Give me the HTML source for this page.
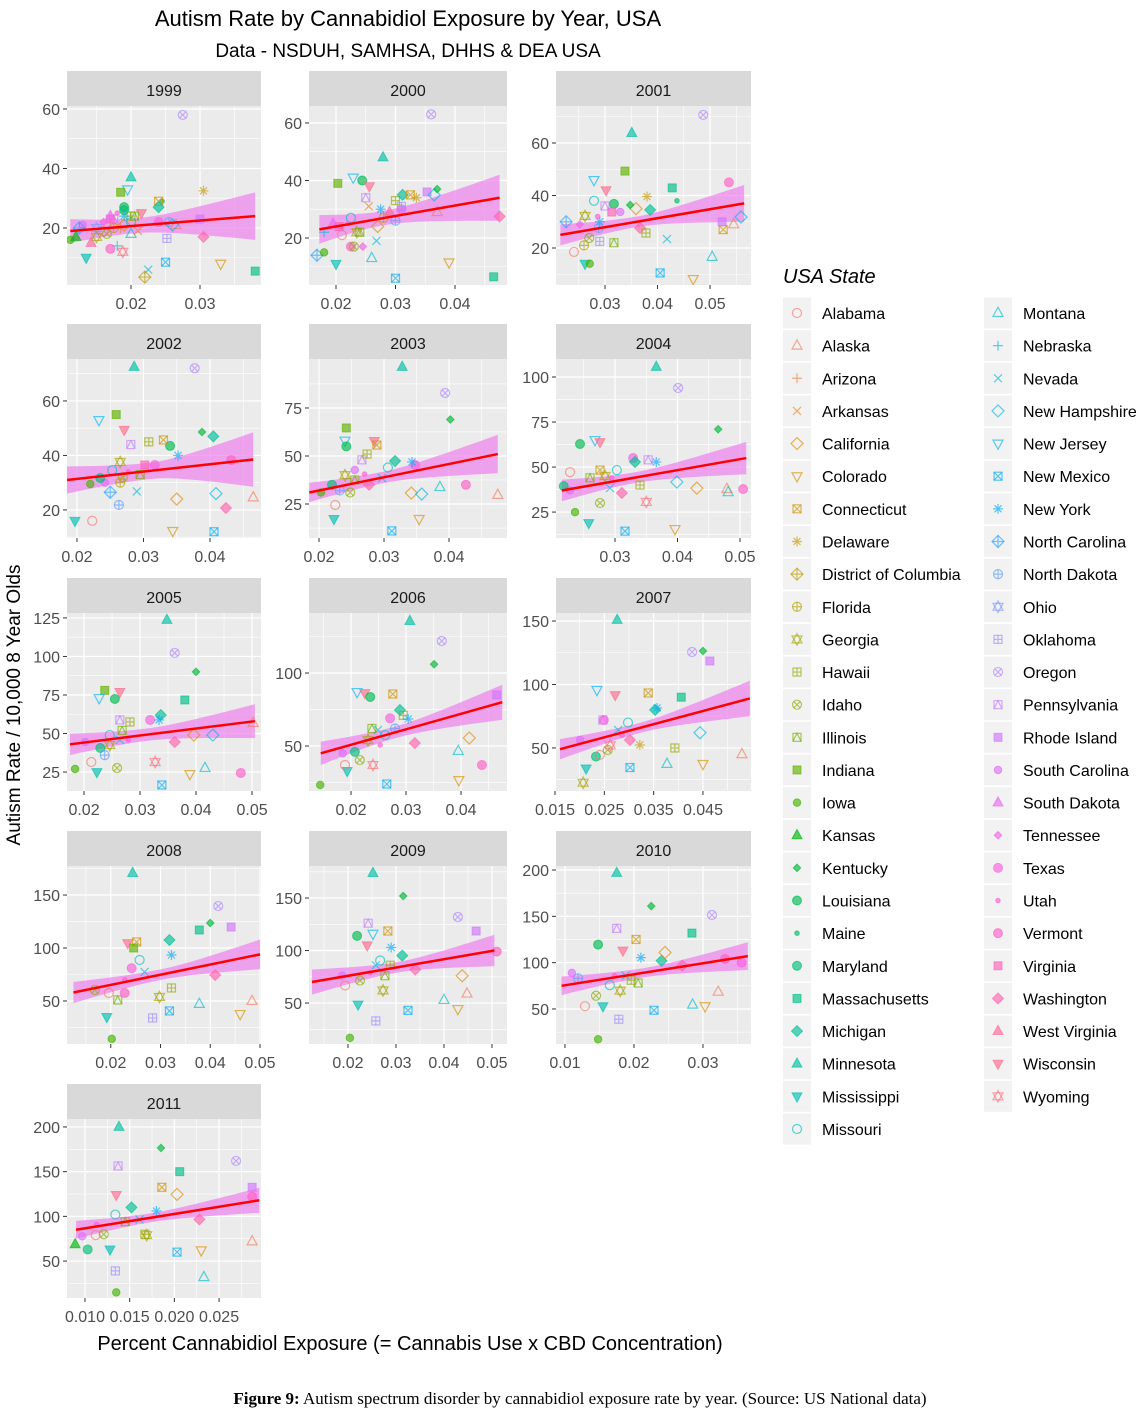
<!DOCTYPE html>
<html><head><meta charset="utf-8"><style>
body{margin:0;background:#fff;}
svg{display:block;font-family:"Liberation Sans",sans-serif;}
</style></head><body>
<svg id="chart" width="1147" height="1416" viewBox="0 0 1147 1416" xmlns="http://www.w3.org/2000/svg">
<text x="408" y="26" font-size="22" text-anchor="middle" fill="#000">Autism Rate by Cannabidiol Exposure by Year, USA</text>
<text x="408" y="57" font-size="19" text-anchor="middle" fill="#000">Data - NSDUH, SAMHSA, DHHS &amp; DEA USA</text>
<text transform="translate(20,705) rotate(-90)" font-size="19" text-anchor="middle" fill="#000">Autism Rate / 10,000 8 Year Olds</text>
<text x="410" y="1350" font-size="20" text-anchor="middle" fill="#000">Percent Cannabidiol Exposure (= Cannabis Use x CBD Concentration)</text>
<text x="580" y="1404" font-size="17" text-anchor="middle" fill="#000" font-family="Liberation Serif, serif"><tspan font-weight="bold">Figure 9:</tspan> Autism spectrum disorder by cannabidiol exposure rate by year. (Source: US National data)</text>
<text x="783" y="283" font-size="20" font-style="italic" fill="#000">USA State</text>
<g id="panels"></g>
<g id="legend"></g>
</svg>
<script>
const states=["Alabama","Alaska","Arizona","Arkansas","California","Colorado","Connecticut","Delaware","District of Columbia","Florida","Georgia","Hawaii","Idaho","Illinois","Indiana","Iowa","Kansas","Kentucky","Louisiana","Maine","Maryland","Massachusetts","Michigan","Minnesota","Mississippi","Missouri","Montana","Nebraska","Nevada","New Hampshire","New Jersey","New Mexico","New York","North Carolina","North Dakota","Ohio","Oklahoma","Oregon","Pennsylvania","Rhode Island","South Carolina","South Dakota","Tennessee","Texas","Utah","Vermont","Virginia","Washington","West Virginia","Wisconsin","Wyoming"];
const years=["1999","2000","2001","2002","2003","2004","2005","2006","2007","2008","2009","2010","2011"];
const xDomains=[[0.01072,0.03884],[0.01546,0.04874],[0.02067,0.0578],[0.0185,0.04767],[0.01846,0.04892],[0.02056,0.05176],[0.01696,0.0516],[0.01236,0.04836],[0.0152,0.05474],[0.0112,0.0502],[0.01188,0.05313],[0.0087,0.03696],[0.00799,0.02969]];
const yDomains=[[0.84,61],[3.65,65.9],[5.9,74.1],[9.7,75.4],[7.3,100.5],[10.6,110],[12.7,128.2],[19.2,141.1],[16.1,156.3],[9.4,177.4],[11,180.5],[12.2,204.3],[8.7,208.9]];
const xTicks=[[0.02,0.03],[0.02,0.03,0.04],[0.03,0.04,0.05],[0.02,0.03,0.04],[0.02,0.03,0.04],[0.03,0.04,0.05],[0.02,0.03,0.04,0.05],[0.02,0.03,0.04],[0.015,0.025,0.035,0.045],[0.02,0.03,0.04,0.05],[0.02,0.03,0.04,0.05],[0.01,0.02,0.03],[0.010,0.015,0.020,0.025]];
const xTickLabels=[["0.02","0.03"],["0.02","0.03","0.04"],["0.03","0.04","0.05"],["0.02","0.03","0.04"],["0.02","0.03","0.04"],["0.03","0.04","0.05"],["0.02","0.03","0.04","0.05"],["0.02","0.03","0.04"],["0.015","0.025","0.035","0.045"],["0.02","0.03","0.04","0.05"],["0.02","0.03","0.04","0.05"],["0.01","0.02","0.03"],["0.010","0.015","0.020","0.025"]];
const yTicks=[[20,40,60],[20,40,60],[20,40,60],[20,40,60],[25,50,75],[25,50,75,100],[25,50,75,100,125],[50,100],[50,100,150],[50,100,150],[50,100,150],[50,100,150,200],[50,100,150,200]];
const fitLines=[[0.0112,19,0.038,24],[0.0172,23,0.0475,34],[0.0215,25,0.0565,37],[0.0185,31,0.0465,38.5],[0.0185,31,0.0475,51],[0.0215,37,0.051,55],[0.0175,43,0.0505,58],[0.0145,45,0.0475,80],[0.016,49,0.0545,89],[0.0125,58,0.05,94],[0.0125,70,0.0505,100],[0.0095,75,0.0365,107],[0.009,85,0.0295,118]];
const bandWidths=[[4,2.5,8],[5,2.5,8],[4,2,7],[5,3,10],[5,3,10],[6,3,9],[7,4,11],[8,4,12],[8,4,14],[10,5,14],[12,5,15],[10,5,15],[10,5,14]];
const pts1999=[[0.0275,58,37],[0.020,37,23],[0.0195,33,30],[0.0185,32,14],[0.0305,32.5,7],[0.019,27,18],[0.0245,29,19],[0.024,29,6],[0.024,27,22],[0.0215,25,49],[0.020,24,11],[0.019,24,32],[0.0175,23,38],[0.024,22,43],[0.0255,22,34],[0.0265,21,1],[0.013,21,40],[0.020,18,26],[0.0165,18,12],[0.0112,16,15],[0.015,17,10],[0.0142,15,48],[0.0252,16.5,36],[0.0305,17,47],[0.018,14,27],[0.017,13,45],[0.0188,12,50],[0.0135,10,24],[0.025,8.5,31],[0.0225,6,28],[0.022,3.5,8],[0.033,8,5],[0.038,5.5,21],[0.030,23,39],[0.018,25,44],[0.0175,20,9],[0.019,21,4],[0.016,19,0],[0.0185,20,2],[0.021,19,3],[0.012,17,16],[0.0125,20,33],[0.02,22,25],[0.026,21,29],[0.0205,24,13],[0.019,26,20],[0.017,23,46],[0.016,22,42],[0.015,20,35],[0.017,24,41]];
const pts2000=[[0.036,63,37],[0.0279,48,23],[0.0203,39,14],[0.0229,41,30],[0.0244,40,18],[0.0256,38,49],[0.025,34,38],[0.0255,31,3],[0.0275,30,32],[0.030,33,11],[0.0312,35,22],[0.0325,35,6],[0.0335,34,7],[0.0353,36,39],[0.0365,35,29],[0.037,37,17],[0.037,29,1],[0.030,26,34],[0.031,30,43],[0.0475,27.5,47],[0.0195,25,41],[0.018,22,27],[0.0235,22,10],[0.0225,27,25],[0.0225,17,45],[0.023,17,12],[0.0245,17,42],[0.0168,14,33],[0.018,15,15],[0.020,11,24],[0.0268,19,28],[0.026,13,26],[0.039,11.5,5],[0.030,6,31],[0.0465,6.5,21],[0.024,22,13],[0.021,21,0],[0.027,24,4],[0.028,27,9],[0.031,31,36],[0.0205,24,46],[0.022,25,44],[0.029,29,48]];
const pts2001=[[0.0487,70.7,37],[0.0351,63.8,23],[0.0338,49.3,14],[0.0279,45.9,30],[0.0302,42,49],[0.0428,42.9,21],[0.0536,45,45],[0.038,39.6,7],[0.0437,38,19],[0.0359,35,4],[0.0262,32.2,10],[0.029,30,32],[0.0418,23.4,28],[0.0504,16.6,26],[0.0525,27,6],[0.0559,31.8,29],[0.0523,30,39],[0.0545,29,1],[0.0262,14,24],[0.0271,14,15],[0.0241,18.5,0],[0.0405,10.5,31],[0.0468,8.2,5],[0.0226,30,33],[0.0367,27.6,47],[0.0386,34.5,22],[0.0348,36.4,17],[0.0317,36.8,18],[0.0288,27.6,34],[0.027,23.8,12],[0.0329,33.7,40],[0.0286,32,44],[0.0313,33.7,46],[0.03,36,38],[0.0378,25.7,11],[0.026,21,9],[0.029,22.5,36],[0.0317,22,13],[0.0252,29,42],[0.0279,38,25]];
const pts2002=[[0.0286,72.5,23],[0.0377,72,37],[0.0259,55,14],[0.0233,53,30],[0.0271,49.4,49],[0.0388,48.6,17],[0.0405,47,22],[0.034,43.5,18],[0.0308,45,11],[0.033,45.7,6],[0.0281,44,38],[0.0352,40,32],[0.0432,38.3,45],[0.0317,36.5,43],[0.0265,37.6,10],[0.0465,24.6,1],[0.0424,20.7,47],[0.035,24,4],[0.0409,26,29],[0.0344,12.3,5],[0.0406,12,31],[0.0197,16,24],[0.0223,16,0],[0.0263,21.8,34],[0.025,26.5,33],[0.029,26.8,28],[0.022,29.5,15],[0.0242,30,40],[0.0269,32,12],[0.0253,34.6,25],[0.0277,34,44],[0.0295,33,13],[0.0235,31.7,20],[0.0302,36.5,46],[0.0265,30,9]];
const pts2003=[[0.0328,96.4,23],[0.0394,82.8,37],[0.0402,69,17],[0.0242,64.6,14],[0.024,58,30],[0.0285,57.8,49],[0.0289,55.7,6],[0.0266,48,38],[0.0274,51,11],[0.0242,55,18],[0.0317,47.4,22],[0.0348,45.3,43],[0.0343,46.9,32],[0.0426,35,45],[0.0475,29.7,1],[0.0342,30.7,4],[0.0386,33.8,26],[0.0358,30.2,29],[0.0354,17.2,5],[0.0312,11,31],[0.0223,17.2,24],[0.0225,24.5,0],[0.0203,31,15],[0.0248,31,12],[0.0232,32,34],[0.0255,42.7,40],[0.0297,38.5,28],[0.0306,44,25],[0.027,40.6,44],[0.0255,37.5,13],[0.024,40,10],[0.0277,35,47],[0.022,35,20]];
const pts2004=[[0.0366,105.6,23],[0.0401,93.9,37],[0.0465,71,17],[0.0244,62.8,18],[0.0268,65,30],[0.0276,63.9,49],[0.0353,54,38],[0.0329,55,43],[0.0332,52.8,22],[0.0366,52.8,32],[0.0505,37.8,45],[0.0479,37.8,1],[0.0481,36,26],[0.0431,38.3,4],[0.0399,41.7,29],[0.0396,15.6,5],[0.0316,14.4,31],[0.035,30.6,50],[0.0258,18.9,24],[0.0236,25,15],[0.0228,37,40],[0.0276,30,12],[0.0292,38.3,28],[0.0284,45,10],[0.0303,48.3,25],[0.0295,44,44],[0.0311,35.6,47],[0.026,44,13],[0.0218,39.4,20],[0.0228,47.2,0],[0.0276,48.3,6],[0.034,40,11]];
const pts2005=[[0.0348,123.7,23],[0.0362,102.3,37],[0.04,90,17],[0.0237,78,14],[0.0227,73,30],[0.0264,77,49],[0.0255,72.4,18],[0.038,71.8,21],[0.0264,58.8,38],[0.0337,62,22],[0.0318,58.8,43],[0.0282,57.5,11],[0.0334,58.8,32],[0.048,24.4,45],[0.0502,56.8,1],[0.0362,44.5,47],[0.0396,49,4],[0.0416,27.6,26],[0.0389,23.7,5],[0.0339,16.6,31],[0.0327,31.5,50],[0.0223,25,24],[0.0184,27,15],[0.0213,31.5,0],[0.0259,27.6,12],[0.0246,42.5,10],[0.0264,45.8,28],[0.0268,52,13],[0.043,49,29],[0.0202,44.5,40],[0.0246,49,25],[0.0279,45.8,44],[0.0229,40.6,20],[0.0237,36,34]];
const pts2006=[[0.0307,135.6,23],[0.0365,121.9,37],[0.0351,106,17],[0.0465,85,39],[0.0211,87,30],[0.0225,86.3,49],[0.0235,83.6,18],[0.0276,85.6,6],[0.0289,74.7,22],[0.0271,69,43],[0.0295,71,11],[0.0304,68.5,32],[0.0316,52,47],[0.0415,55.5,4],[0.0438,37,45],[0.0395,46.6,26],[0.0396,26.7,5],[0.0265,24,31],[0.024,37,50],[0.0193,32.9,24],[0.0144,23.3,15],[0.0189,37,0],[0.0216,40.4,12],[0.0231,54,10],[0.0249,61,28],[0.0262,57.5,25],[0.0253,50.7,44],[0.0207,46,20],[0.0185,45,40],[0.028,62,34],[0.0238,62,13]];
const pts2007=[[0.0276,150.8,23],[0.0428,125.6,37],[0.0464,118.5,39],[0.045,126.4,17],[0.0235,95.7,30],[0.0272,91.7,49],[0.0339,93.3,6],[0.0406,90,21],[0.0247,72,38],[0.0353,80,22],[0.0249,72,43],[0.0393,50,11],[0.0357,81.5,32],[0.0322,52.4,7],[0.0377,37.4,26],[0.045,37.4,5],[0.0529,45,1],[0.0444,62,29],[0.0302,34.6,31],[0.0213,33.9,24],[0.0207,22.6,10],[0.0233,43.2,20],[0.0241,44.5,0],[0.0257,48.4,12],[0.0201,56.3,40],[0.0278,64.2,28],[0.0298,70,25],[0.0286,60,44],[0.0302,56.3,47],[0.0262,52,50]];
const pts2008=[[0.0244,170.8,23],[0.0416,139.6,37],[0.04,123.6,17],[0.0442,119.8,39],[0.0234,104.7,49],[0.0252,105.7,6],[0.0246,100,14],[0.0378,117,21],[0.0318,107.5,22],[0.0322,93.4,32],[0.0322,62.3,11],[0.0242,81,43],[0.041,74.5,47],[0.046,37.7,5],[0.0484,50,1],[0.0378,47.2,26],[0.0318,40.6,31],[0.0284,34,36],[0.0192,34.9,24],[0.0202,14.2,15],[0.0196,57.5,0],[0.0298,53.8,10],[0.0268,77.4,28],[0.0258,88.7,25],[0.0228,70,44],[0.0214,51,13],[0.0168,60.4,12],[0.0228,57.5,45]];
const pts2009=[[0.0252,173.8,23],[0.0315,151.9,17],[0.0429,131.9,37],[0.0467,118.6,39],[0.0242,126,38],[0.0252,116,30],[0.0283,118.6,6],[0.0219,114,18],[0.024,105,49],[0.029,102.9,32],[0.0313,95.2,22],[0.034,81.9,47],[0.051,99,45],[0.0438,76,4],[0.0448,59,1],[0.04,52.9,26],[0.0429,44.3,5],[0.0325,43,31],[0.0258,33,36],[0.0204,16.8,15],[0.0221,48.6,24],[0.0194,66.7,0],[0.0273,62,10],[0.0258,86,28],[0.0267,90.5,25],[0.0288,86,11],[0.0225,71.4,12],[0.0188,76,40],[0.0246,79,44],[0.0277,76,13]];
const pts2010=[[0.0175,196.8,23],[0.0225,161,17],[0.0313,151.4,37],[0.0175,137,38],[0.0203,125,6],[0.0284,131.9,21],[0.0148,119.5,18],[0.0184,113,49],[0.021,105.4,32],[0.024,102,22],[0.0356,100,43],[0.027,96.8,47],[0.0332,104,45],[0.0245,111,4],[0.0322,68.6,1],[0.0285,54.6,26],[0.0303,53,5],[0.0229,48.6,31],[0.0178,38.9,36],[0.0148,17.3,15],[0.0155,53,24],[0.0129,53,0],[0.018,69.7,10],[0.0188,86,28],[0.0165,75.7,25],[0.0196,81,11],[0.0145,64.3,12],[0.011,89,40],[0.0172,86,44],[0.0206,78,13],[0.0119,83,34]];
const pts2011=[[0.0138,200,23],[0.0185,176.5,17],[0.0269,162,37],[0.0137,156.4,38],[0.0206,150,21],[0.0186,132.5,6],[0.0203,124.6,4],[0.0287,132.5,39],[0.0135,124,49],[0.018,106,32],[0.0152,110,22],[0.0287,122,45],[0.0228,96.6,47],[0.0287,72,1],[0.023,62,5],[0.0233,32,26],[0.0203,60,31],[0.0134,39,36],[0.0135,15,15],[0.0128,63,24],[0.0112,79,0],[0.0103,63,20],[0.0089,68.7,16],[0.0169,79,10],[0.0161,96.6,28],[0.0134,102,25],[0.0121,80,12],[0.0113,91,44],[0.0145,94,13],[0.0167,80,11],[0.0097,77.7,40]];
const allPts=[pts1999,pts2000,pts2001,pts2002,pts2003,pts2004,pts2005,pts2006,pts2007,pts2008,pts2009,pts2010,pts2011];

const NS="http://www.w3.org/2000/svg";
const colX=[[67,261],[309,507],[556,751]];
const rowY=[[106,285],[359,538],[613,791],[866,1044],[1119,1298]];

function hcl(h,c,l){
  const hr=h*Math.PI/180,U=c*Math.cos(hr),V=c*Math.sin(hr);
  const Xn=95.047,Yn=100,Zn=108.883;
  const Y=l>8?Yn*Math.pow((l+16)/116,3):Yn*l/903.3;
  const d=Xn+15*Yn+3*Zn,un=4*Xn/d,vn=9*Yn/d;
  const up=U/(13*l)+un,vp=V/(13*l)+vn;
  const X=9*Y*up/(4*vp),Z=-X/3-5*Y+3*Y/vp;
  const x=X/100,y=Y/100,z=Z/100;
  let r=3.2406*x-1.5372*y-0.4986*z,g=-0.9689*x+1.8758*y+0.0415*z,b=0.0557*x-0.2040*y+1.0570*z;
  const gm=v=>{v=v<=0.0031308?12.92*v:1.055*Math.pow(v,1/2.4)-0.055;return Math.round(Math.max(0,Math.min(1,v))*255);};
  return "rgb("+gm(r)+","+gm(g)+","+gm(b)+")";
}
const colors=states.map((s,i)=>hcl(15+i*360/51,100,65));
function shapeCode(i){if(i<25)return i+1;if(i<50)return i-24;return 11;}

function el(tag,attrs,parent){const e=document.createElementNS(NS,tag);for(const k in attrs)e.setAttribute(k,attrs[k]);if(parent)parent.appendChild(e);return e;}

function drawShape(g,code,cx,cy,col,op){
  const r=5;const st={stroke:col,"stroke-width":1.2,fill:"none","stroke-opacity":op,"fill-opacity":op};
  const fl={fill:col,stroke:col,"stroke-width":1,"fill-opacity":op,"stroke-opacity":op};
  const tri=(s,up)=>{const h=s*1.15;return up?`${cx},${cy-h} ${cx-s},${cy+h*0.6} ${cx+s},${cy+h*0.6}`:`${cx},${cy+h} ${cx-s},${cy-h*0.6} ${cx+s},${cy-h*0.6}`;};
  const dia=s=>`${cx},${cy-s} ${cx+s},${cy} ${cx},${cy+s} ${cx-s},${cy}`;
  const grp=el("g",{},g);
  
  
  const A=(t,a)=>el(t,a,grp);
  switch(code){
    case 1:A("circle",Object.assign({cx,cy,r:r*0.9},st));break;
    case 2:A("polygon",Object.assign({points:tri(r,true)},st));break;
    case 3:A("path",Object.assign({d:`M${cx-r},${cy}H${cx+r}M${cx},${cy-r}V${cy+r}`},st));break;
    case 4:A("path",Object.assign({d:`M${cx-r*0.8},${cy-r*0.8}L${cx+r*0.8},${cy+r*0.8}M${cx-r*0.8},${cy+r*0.8}L${cx+r*0.8},${cy-r*0.8}`},st));break;
    case 5:A("polygon",Object.assign({points:dia(r*1.2)},st));break;
    case 6:A("polygon",Object.assign({points:tri(r,false)},st));break;
    case 7:A("rect",Object.assign({x:cx-r*0.8,y:cy-r*0.8,width:r*1.6,height:r*1.6},st));A("path",Object.assign({d:`M${cx-r*0.8},${cy-r*0.8}L${cx+r*0.8},${cy+r*0.8}M${cx-r*0.8},${cy+r*0.8}L${cx+r*0.8},${cy-r*0.8}`},st));break;
    case 8:A("path",Object.assign({d:`M${cx-r},${cy}H${cx+r}M${cx},${cy-r}V${cy+r}M${cx-r*0.7},${cy-r*0.7}L${cx+r*0.7},${cy+r*0.7}M${cx-r*0.7},${cy+r*0.7}L${cx+r*0.7},${cy-r*0.7}`},st));break;
    case 9:A("polygon",Object.assign({points:dia(r*1.2)},st));A("path",Object.assign({d:`M${cx-r*1.2},${cy}H${cx+r*1.2}M${cx},${cy-r*1.2}V${cy+r*1.2}`},st));break;
    case 10:A("circle",Object.assign({cx,cy,r:r*0.9},st));A("path",Object.assign({d:`M${cx-r*0.9},${cy}H${cx+r*0.9}M${cx},${cy-r*0.9}V${cy+r*0.9}`},st));break;
    case 11:A("polygon",Object.assign({points:tri(r,true)},st));A("polygon",Object.assign({points:tri(r,false)},st));break;
    case 12:A("rect",Object.assign({x:cx-r*0.8,y:cy-r*0.8,width:r*1.6,height:r*1.6},st));A("path",Object.assign({d:`M${cx-r*0.8},${cy}H${cx+r*0.8}M${cx},${cy-r*0.8}V${cy+r*0.8}`},st));break;
    case 13:A("circle",Object.assign({cx,cy,r:r*0.9},st));A("path",Object.assign({d:`M${cx-r*0.63},${cy-r*0.63}L${cx+r*0.63},${cy+r*0.63}M${cx-r*0.63},${cy+r*0.63}L${cx+r*0.63},${cy-r*0.63}`},st));break;
    case 14:A("rect",Object.assign({x:cx-r*0.8,y:cy-r*0.8,width:r*1.6,height:r*1.6},st));A("polyline",Object.assign({points:`${cx-r*0.8},${cy+r*0.8} ${cx},${cy-r*0.8} ${cx+r*0.8},${cy+r*0.8}`},st));break;
    case 15:A("rect",Object.assign({x:cx-r*0.8,y:cy-r*0.8,width:r*1.6,height:r*1.6},fl));break;
    case 16:A("circle",Object.assign({cx,cy,r:r*0.75},fl));break;
    case 17:A("polygon",Object.assign({points:tri(r,true)},fl));break;
    case 18:A("polygon",Object.assign({points:dia(r*0.75)},fl));break;
    case 19:A("circle",Object.assign({cx,cy,r:r*0.9},fl));break;
    case 20:A("circle",Object.assign({cx,cy,r:r*0.45},fl));break;
    case 21:A("circle",Object.assign({cx,cy,r:r*0.9},fl));break;
    case 22:A("rect",Object.assign({x:cx-r*0.8,y:cy-r*0.8,width:r*1.6,height:r*1.6},fl));break;
    case 23:A("polygon",Object.assign({points:dia(r*1.1)},fl));break;
    case 24:A("polygon",Object.assign({points:tri(r,true)},fl));break;
    case 25:A("polygon",Object.assign({points:tri(r,false)},fl));break;
  }
}

const panelsG=document.getElementById("panels");
years.forEach((yr,p)=>{
  const c=p%3,rw=Math.floor(p/3);
  const [x0,x1]=colX[c],[y0,y1]=rowY[rw];
  const xd=xDomains[p],yd=yDomains[p];
  const sx=v=>x0+(v-xd[0])/(xd[1]-xd[0])*(x1-x0);
  const sy=v=>y1-(v-yd[0])/(yd[1]-yd[0])*(y1-y0);
  const g=el("g",{},panelsG);
  
  
  const strip=el("rect",{x:x0,y:y0-35,width:x1-x0,height:35,fill:"#d9d9d9"},g);
  
  
  const st=el("text",{x:(x0+x1)/2,y:y0-10,"font-size":16,"text-anchor":"middle",fill:"#1a1a1a"},g);
  st.textContent=yr;
  
  
  const bg=el("rect",{x:x0,y:y0,width:x1-x0,height:y1-y0,fill:"#ebebeb"},g);
  
  
  const cid="clip"+p;
  const cp=el("clipPath",{id:cid},g);el("rect",{x:x0,y:y0,width:x1-x0,height:y1-y0},cp);
  const inner=el("g",{"clip-path":"url(#"+cid+")"},g);
  const xt=xTicks[p],yt=yTicks[p];
  const xs=xt[1]-xt[0],ys=yt.length>1?yt[1]-yt[0]:yt[0];
  for(let v=xt[0]-xs*0.5;v<xd[1];v+=xs){if(v>xd[0])el("line",{x1:sx(v),x2:sx(v),y1:y0,y2:y1,stroke:"#fff","stroke-width":0.6},inner);}
  for(let v=yt[0]-ys*0.5;v<yd[1];v+=ys){if(v>yd[0])el("line",{x1:x0,x2:x1,y1:sy(v),y2:sy(v),stroke:"#fff","stroke-width":0.6},inner);}
  xt.forEach((v,i)=>{
    el("line",{x1:sx(v),x2:sx(v),y1:y0,y2:y1,stroke:"#fff","stroke-width":1.2},inner);
    el("line",{x1:sx(v),x2:sx(v),y1:y1,y2:y1+4,stroke:"#333","stroke-width":1},g);
    const t=el("text",{x:sx(v),y:y1+24,"font-size":16,"text-anchor":"middle",fill:"#4d4d4d"},g);
    t.textContent=xTickLabels[p][i];
    
    
  });
  yt.forEach(v=>{
    el("line",{x1:x0,x2:x1,y1:sy(v),y2:sy(v),stroke:"#fff","stroke-width":1.2},inner);
    el("line",{x1:x0-4,x2:x0,y1:sy(v),y2:sy(v),stroke:"#333","stroke-width":1},g);
    const t=el("text",{x:x0-7,y:sy(v)+6,"font-size":16,"text-anchor":"end",fill:"#4d4d4d"},g);
    t.textContent=String(v);
    
    
  });
  const f=fitLines[p],bw=bandWidths[p],pts=allPts[p];
  const xm=pts.reduce((a,q)=>a+q[0],0)/pts.length;
  const lineY=x=>f[1]+(f[3]-f[1])*(x-f[0])/(f[2]-f[0]);
  const hw=x=>{const side=x<xm,ref=side?f[0]:f[2],he=side?bw[0]:bw[2];const t=(x-xm)/(ref-xm);return Math.sqrt(bw[1]*bw[1]+(he*he-bw[1]*bw[1])*t*t);};
  let up=[],lo=[];
  for(let i=0;i<=40;i++){const x=f[0]+(f[2]-f[0])*i/40;up.push(sx(x)+","+sy(lineY(x)+hw(x)));lo.unshift(sx(x)+","+sy(lineY(x)-hw(x)));}
  const band=el("polygon",{points:up.concat(lo).join(" "),fill:"#ee82ee","fill-opacity":0.7},inner);
  
  
  pts.forEach(q=>drawShape(inner,shapeCode(q[2]),sx(q[0]),sy(q[1]),colors[q[2]],0.65));
  const ln=el("line",{x1:sx(f[0]),y1:sy(f[1]),x2:sx(f[2]),y2:sy(f[3]),stroke:"#ff0000","stroke-width":2.5},inner);
  
  
});

const lg=document.getElementById("legend");
states.forEach((s,i)=>{
  const col=i<26?0:1,row=i<26?i:i-26;
  const kx=col?984:783,cy=313+row*32.64;
  const g=el("g",{},lg);
  
  
  el("rect",{x:kx,y:cy-15.5,width:28,height:31,fill:"#f2f2f2"},g);
  drawShape(g,shapeCode(i),kx+14,cy,colors[i],0.65);
  const t=el("text",{x:kx+39,y:cy+6,"font-size":16,fill:"#000"},g);
  t.textContent=s;
  
  
});
</script>
</body></html>
